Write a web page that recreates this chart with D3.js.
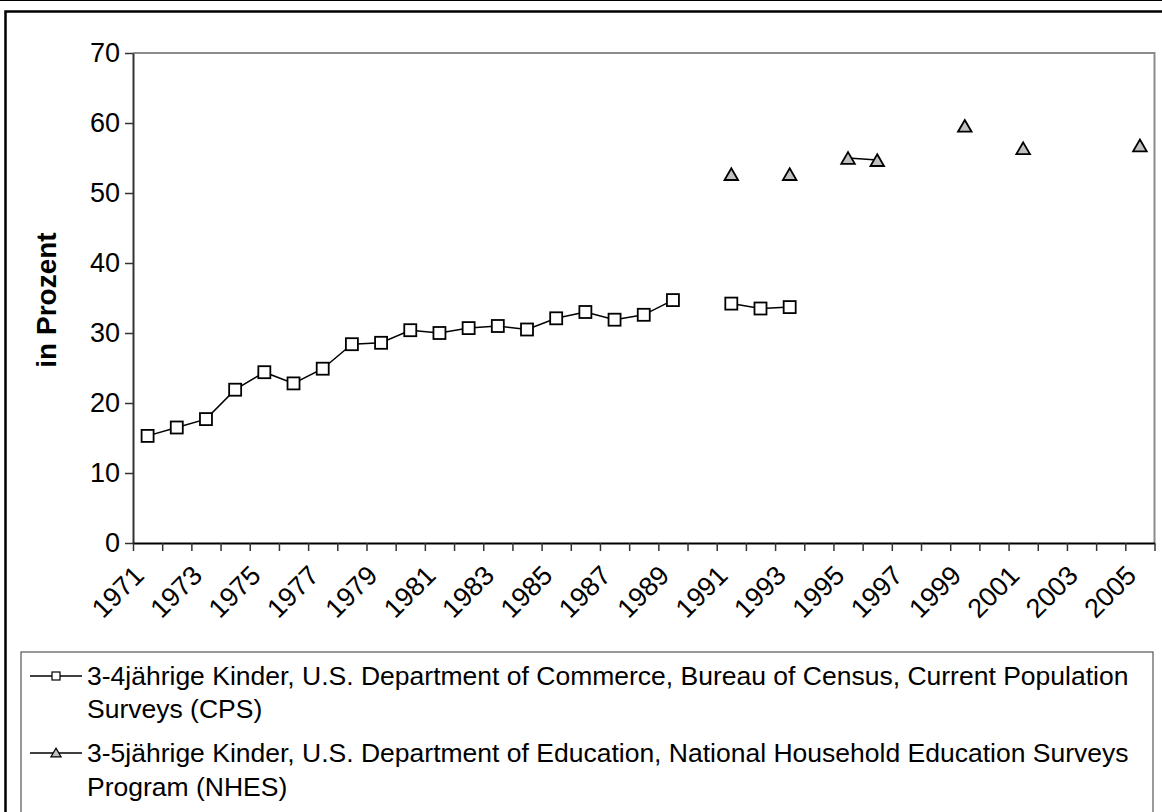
<!DOCTYPE html>
<html>
<head>
<meta charset="utf-8">
<script src="https://cdn.jsdelivr.net/npm/d3@7"></script>
<style>
  body { margin: 0; background: #fff; }
  svg { display: block; font-family: "Liberation Sans", Arial, sans-serif; }
</style>
</head>
<body>
<svg id="chart" width="1162" height="812"></svg>
<script>
// data
const years = [1971, 1972, 1973, 1974, 1975, 1976, 1977, 1978, 1979, 1980,
  1981, 1982, 1983, 1984, 1985, 1986, 1987, 1988, 1989, 1990,
  1991, 1992, 1993, 1994, 1995, 1996, 1997, 1998, 1999, 2000,
  2001, 2002, 2003, 2004, 2005];

const cpsValues = [15.3, 16.5, 17.7, 21.9, 24.4, 22.8, 24.9, 28.4, 28.6, 30.4,
  30.0, 30.7, 31.0, 30.5, 32.1, 33.0, 31.9, 32.6, 34.7, null,
  34.2, 33.5, 33.7, null, null, null, null, null, null, null,
  null, null, null, null, null];

const nhesValues = [null, null, null, null, null, null, null, null, null, null,
  null, null, null, null, null, null, null, null, null, null,
  52.7, null, 52.7, null, 55.0, 54.7, null, null, 59.6, null,
  56.4, null, null, null, 56.8];

const yTicks = [0, 10, 20, 30, 40, 50, 60, 70];
const labelYears = [1971, 1973, 1975, 1977, 1979, 1981, 1983, 1985, 1987, 1989,
  1991, 1993, 1995, 1997, 1999, 2001, 2003, 2005];

const legendLines = [
  ["3-4jährige Kinder, U.S. Department of Commerce, Bureau of Census, Current Population", "Surveys (CPS)"],
  ["3-5jährige Kinder, U.S. Department of Education, National Household Education Surveys", "Program (NHES)"]
];

const svg = d3.select("#chart");

// frame
svg.append("line").attr("x1", 0).attr("x2", 1162).attr("y1", 0.5).attr("y2", 0.5)
  .attr("stroke", "#000").attr("stroke-width", 1);
svg.append("rect").attr("x", 5.5).attr("y", 11.5).attr("width", 1180).attr("height", 840)
  .attr("fill", "none").attr("stroke", "#000").attr("stroke-width", 2.5);

let plotLeft = 133, plotRight = 1154.5, plotTop = 53, plotBottom = 543;

let x = d3.scaleBand().domain(years).range([plotLeft, plotRight]).padding(0);
let xEdge = d3.scaleLinear().domain([0, years.length]).range([plotLeft, plotRight]);
let y = d3.scaleLinear().domain([0, 70]).range([plotBottom, plotTop]);

// plot area border (grey top/right)
svg.append("path")
  .attr("d", `M${plotLeft},${plotTop}H${plotRight}V${plotBottom}`)
  .attr("fill", "none").attr("stroke", "#8c8c8c").attr("stroke-width", 2);

// y axis
let yAxis = svg.append("g")
  .attr("transform", "translate(" + plotLeft + ",0)")
  .call(d3.axisLeft(y).tickValues(yTicks).tickSize(8).tickPadding(5).tickSizeOuter(0));
yAxis.select(".domain").attr("stroke", "#333").attr("stroke-width", 2);
yAxis.selectAll(".tick line").attr("stroke", "#333").attr("stroke-width", 1.5);
yAxis.selectAll("text").attr("font-size", 27).attr("fill", "#000")
  .attr("font-family", "Liberation Sans, Arial, sans-serif");

// x axis: ticks at category edges
let xTicks = svg.append("g")
  .attr("transform", "translate(0," + plotBottom + ")")
  .call(d3.axisBottom(xEdge).tickValues(d3.range(years.length + 1))
    .tickSize(8).tickFormat("").tickSizeOuter(0));
xTicks.select(".domain").attr("stroke", "#000").attr("stroke-width", 2);
xTicks.selectAll(".tick line").attr("stroke", "#333").attr("stroke-width", 1.5);

// x axis labels
let xLabels = svg.append("g")
  .attr("transform", "translate(0," + plotBottom + ")")
  .call(d3.axisBottom(x).tickValues(labelYears).tickSize(0));
xLabels.select(".domain").remove();
xLabels.selectAll("text")
  .attr("font-size", 27).attr("fill", "#000")
  .attr("font-family", "Liberation Sans, Arial, sans-serif")
  .attr("text-anchor", "end")
  .attr("x", 0).attr("y", 0).attr("dy", 0)
  .attr("transform", "translate(-2,34) rotate(-45)");

// y title
svg.append("text")
  .attr("transform", "translate(56,300) rotate(-90)")
  .attr("text-anchor", "middle")
  .attr("font-size", 28).attr("font-weight", "bold")
  .text("in Prozent");

let cx = d => x(d.year) + x.bandwidth() / 2;

let cpsData = years.map((yr, i) => ({ year: yr, v: cpsValues[i] }));
let nhesData = years.map((yr, i) => ({ year: yr, v: nhesValues[i] }));

let line = d3.line()
  .defined(d => d.v != null)
  .x(cx)
  .y(d => y(d.v));

svg.append("path").attr("d", line(cpsData))
  .attr("fill", "none").attr("stroke", "#000").attr("stroke-width", 1.5);
svg.append("path").attr("d", line(nhesData))
  .attr("fill", "none").attr("stroke", "#000").attr("stroke-width", 1.5);

svg.selectAll(".sq").data(cpsData.filter(d => d.v != null)).enter()
  .append("rect")
  .attr("x", d => cx(d) - 6).attr("y", d => y(d.v) - 6)
  .attr("width", 12).attr("height", 12)
  .attr("fill", "#fff").attr("stroke", "#000").attr("stroke-width", 1.8);

let tri = d3.symbol(d3.symbolTriangle, 80);
svg.selectAll(".tri").data(nhesData.filter(d => d.v != null)).enter()
  .append("path")
  .attr("d", tri)
  .attr("transform", d => "translate(" + cx(d) + "," + (y(d.v) + 2) + ")")
  .attr("fill", "#c0c0c0").attr("stroke", "#000").attr("stroke-width", 1.8);

// legend
svg.append("rect").attr("x", 21).attr("y", 652).attr("width", 1132).attr("height", 200)
  .attr("fill", "#fff").attr("stroke", "#555").attr("stroke-width", 1.2);

let rowBase = [[685, 718], [762, 796]];
legendLines.forEach((lines, i) => {
  let g = svg.append("g");
  let ly = rowBase[i][0] - 9;
  g.append("line").attr("x1", 30).attr("x2", 82).attr("y1", ly).attr("y2", ly)
    .attr("stroke", "#000").attr("stroke-width", 1.5);
  if (i === 0) {
    g.append("rect").attr("x", 52).attr("y", ly - 4).attr("width", 8).attr("height", 8)
      .attr("fill", "#fff").attr("stroke", "#000").attr("stroke-width", 1.2);
  } else {
    g.append("path").attr("d", d3.symbol(d3.symbolTriangle, 45))
      .attr("transform", "translate(56," + (ly + 1) + ")")
      .attr("fill", "#c0c0c0").attr("stroke", "#000").attr("stroke-width", 1.2);
  }
  lines.forEach((t, j) => {
    g.append("text").attr("x", 87).attr("y", rowBase[i][j])
      .attr("font-size", 26.5).attr("fill", "#000").text(t);
  });
});
</script>
</body>
</html>
